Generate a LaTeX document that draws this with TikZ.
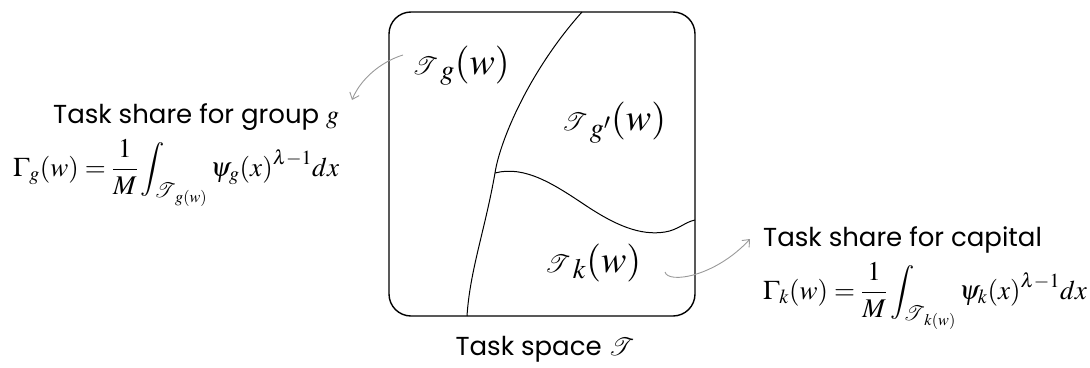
\documentclass[tikz,border=0pt]{standalone}
\usepackage{mathptmx}
\usepackage{mathrsfs}
\usepackage[no-math]{fontspec}
\setmainfont{Poppins}
\usetikzlibrary{arrows.meta}
\tikzset{
  region/.style={line width=1pt},
  pointer/.style={draw=black!40, line width=0.9pt, -{Straight Barb[length=6pt,width=10pt]}},
  lbl/.style={inner sep=0pt, anchor=base, font=\fontsize{38}{42}\selectfont},
  title/.style={inner sep=0pt, font=\fontsize{26}{30}\selectfont},
  formula/.style={inner sep=0pt, anchor=base west, font=\fontsize{27}{32}\selectfont},
}
\newcommand{\Tsub}[1]{\mathscr{T}_{\mkern6mu #1}}
\begin{document}
\begin{tikzpicture}[x=1pt,y=-1pt]
\useasboundingbox (0,0) rectangle (1090,367);
\draw[line width=1.4pt, rounded corners=22pt] (389,12) rectangle (695,316);
\draw[region] (582,12) .. controls (530,70) and (500,140) .. (495,173)
  .. controls (485,230) and (470,270) .. (467,316);
\draw[region] (495,173) .. controls (525,165) and (555,185) .. (585,205)
  .. controls (615,225) and (640,236) .. (665,232)
  .. controls (678,230) and (685,222) .. (695,220);
\node[lbl] (tg) at (461,74) {$\Tsub{g}(w)$};
\node[lbl] (tgp) at (614,130) {$\Tsub{g'}(w)$};
\node[lbl] (tk) at (593,272) {$\Tsub{k}(w)$};
\node[title, anchor=base west] (lt) at (53,123) {Task share for group $g$};
\node[formula] (lf) at (13,176) {$\displaystyle \Gamma_g(w)=\frac{1}{M}\int_{\Tsub{g(w)}}\psi_g(x)^{\lambda-1}dx$};
\node[title, anchor=base west] (rt) at (763,246) {Task share for capital};
\node[formula] (rf) at (763,299) {$\displaystyle \Gamma_k(w)=\frac{1}{M}\int_{\Tsub{k(w)}}\psi_k(x)^{\lambda-1}dx$};
\node[title, anchor=base] (ts) at (545,355) {Task space $\mathscr{T}$};
\coordinate (a1) at (403,55);
\coordinate (a2) at (352,100);
\coordinate (b1) at (665,272);
\coordinate (b2) at (750,239);
\draw[pointer] (a1) .. controls (380,62) and (360,80) .. (a2);
\draw[pointer] (b1) .. controls (668,284) and (715,277) .. (b2);
\end{tikzpicture}
\end{document}
